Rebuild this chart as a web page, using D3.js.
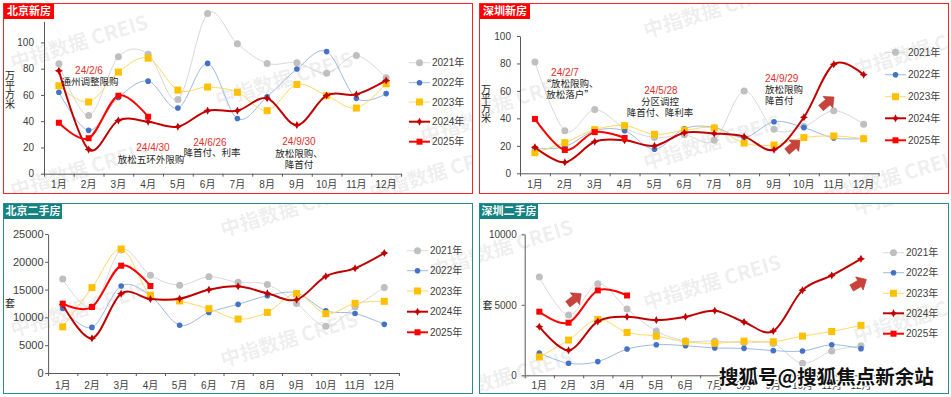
<!DOCTYPE html>
<html><head><meta charset="utf-8">
<script src="https://cdn.jsdelivr.net/npm/d3@7"></script>
<style>
body{margin:0;background:#fff;}
svg{display:block;font-family:"Liberation Sans",Arial,"Noto Sans CJK SC",sans-serif;}
</style></head><body>
<svg id="c" width="951" height="397"></svg>
<script>
const months = ["1月","2月","3月","4月","5月","6月","7月","8月","9月","10月","11月","12月"];
const years = ["2021年","2022年","2023年","2024年","2025年"];
// 北京新房 (万平方米)
const bjNew2021 = [83.8,44.4,89,91,56.6,122,99,84,84.5,76.6,90,73];
const bjNew2022 = [62,33,58,70.5,50,84,42,58.6,79.7,93,57.4,61];
const bjNew2023 = [67,54.6,77.4,88,63.7,66,62,48,68,59.4,50,68.5];
const bjNew2024 = [78.4,18.5,40.6,39.6,35.8,48,48,57.4,37,59.6,60.4,71];
const bjNew2025 = [38.8,27,59.4,43.4];
// 深圳新房 (万平方米)
const szNew2021 = [81,31,46.4,33,26,28,24,60,32,34,45.6,35.7];
const szNew2022 = [18,19.4,31,31,17.5,32.5,33.5,26,37.6,33.3,25.7,25.3];
const szNew2023 = [15,22.3,31.8,34.7,28.4,31.3,33,22,20.6,26,27.2,25.2];
const szNew2024 = [19,8,23,24,20,29.6,29,26.7,17.2,40.8,79.4,71.8];
const szNew2025 = [39.6,17,30,25.7];
// 北京二手房 (套)
const bjSec2021 = [16900,11900,22100,17600,15800,17300,16300,15900,12500,8400,11900,15400];
const bjSec2022 = [11600,8200,15650,13900,8600,10900,12350,13900,14400,11200,10700,8750];
const bjSec2023 = [8300,15350,22300,14000,12950,11570,9700,10900,14270,10670,12530,12890];
const bjSec2024 = [12300,6240,14270,13300,13370,14990,15590,14330,13190,17390,18830,21580];
const bjSec2025 = [12470,11870,19300,15650];
// 深圳二手房 (套)
const szSec2021 = [6980,4270,6490,4700,3140,2450,2430,2300,2250,850,1720,2100];
const szSec2022 = [1580,850,970,1860,2170,2100,1935,1910,1750,1720,2170,1890];
const szSec2023 = [1300,2500,3960,3040,2780,2380,2270,2430,2380,2780,3110,3540];
const szSec2024 = [3450,1770,3820,4150,3920,4150,4580,3780,3140,6040,7080,8260];
const szSec2025 = [4510,3730,6020,5660];
// ticks
const bjNewTicks = [0,20,40,60,80,100];
const szNewTicks = [0,20,40,60,80,100];
const bjSecTicks = [0,5000,10000,15000,20000,25000];
const szSecTicks = [0,5000,10000];
// annotations
const bjNewNoteDates = ["24/2/6","24/4/30","24/6/26","24/9/30"];
const bjNewNoteTexts = [["通州调整限购"],["放松五环外限购"],["降首付、利率"],["放松限购、","降首付"]];
const szNewNoteDates = ["24/2/7","24/5/28","24/9/29"];
const szNewNoteTexts = [["“放松限购、","放松落户”"],["分区调控","降首付、降利率"],["放松限购","降首付"]];
const wmText = "中指数据 CREIS";
const sohuText = "搜狐号@搜狐焦点新余站";

const svg = d3.select("#c");
const defs = svg.append("defs");

const styles = [
  {line:"#d9d9d9", lw:1, marker:"circle", mfill:"#bfbfbf", ms:3.5},
  {line:"#9dbbe3", lw:1, marker:"circle", mfill:"#4472c4", ms:2.8},
  {line:"#ffd966", lw:1, marker:"square", mfill:"#ffc000", ms:7},
  {line:"#c00000", lw:2, marker:"star", mfill:"#c00000", ms:4},
  {line:"#ff0000", lw:2, marker:"square", mfill:"#ff0000", ms:6}
];
function star4(r){const i=r*0.35;return `M0,${-r}L${i},${-i}L${r},0L${i},${i}L0,${r}L${-i},${i}L${-r},0L${-i},${-i}Z`;}
function markerPath(s){
  if(s.marker==="circle") return d3.symbol(d3.symbolCircle, Math.PI*s.ms*s.ms)();
  if(s.marker==="square") return d3.symbol(d3.symbolSquare, s.ms*s.ms)();
  return star4(s.ms);
}
const arrowPath = "M-8.5,-3.5L0.5,-3.5L0.5,-7.5L8.5,0L0.5,7.5L0.5,3.5L-8.5,3.5Z";

const panels = [
  {title:"北京新房", color:"#ff2020", box:"#ff0000", rect:[3,3,469,190], titleW:50,
   x:[44,401], y:[173.7,21.4], max:116, ticks:bjNewTicks, tickPad:7, tickFs:10, monthY:184,
   series:[bjNew2021,bjNew2022,bjNew2023,bjNew2024,bjNew2025],
   legX:409, legY:[62.7,82.7,102,121.7,141.7],
   ylab:{chars:"万平方米", x:10, y:75.7, step:9.6},
   wm:[[13,70],[218,107],[13,198],[423,144],[372,200]],
   notes:{dates:bjNewNoteDates, texts:bjNewNoteTexts, anchor:"middle",
     pos:[[89,70.7,90,82],[153,147.7,151,160],[210,142,212,153],[299,141.7,299,154]], step:10.4},
   arrows:[]},
  {title:"深圳新房", color:"#ff2020", box:"#ff0000", rect:[479,3,469,190], titleW:50,
   x:[520,878.6], y:[173.3,36], max:100, ticks:szNewTicks, tickPad:6, tickFs:10, monthY:184,
   series:[szNew2021,szNew2022,szNew2023,szNew2024,szNew2025],
   legX:885, legY:[52.3,74.7,96.7,118.3,140.3],
   ylab:{chars:"万平方米", x:486, y:89, step:9.8},
   wm:[[646,38],[438,130],[646,170],[856,77],[826,205]],
   notes:{dates:szNewNoteDates, texts:szNewNoteTexts, anchor:["middle","middle","start"],
     pos:[[565,72.3,570,83.5],[661,90.3,660,101.7],[765,78,765,89.3]], step:11.4},
   arrows:[[793.5,146,-40],[827.5,102.5,-40]]},
  {title:"北京二手房", color:"#2a8c8c", box:"#158282", rect:[3,203,469,190], titleW:58,
   x:[48.1,398.9], y:[373,234], max:25000, ticks:bjSecTicks, tickPad:1.5, tickFs:11, monthY:385,
   series:[bjSec2021,bjSec2022,bjSec2023,bjSec2024,bjSec2025],
   legX:407, legY:[250.7,270.7,291,311.7,332.3],
   ylab:{chars:"套", x:10, y:303.3, step:0},
   wm:[[223,237],[13,337],[223,367],[433,278]],
   notes:null, arrows:[]},
  {title:"深圳二手房", color:"#2a8c8c", box:"#158282", rect:[479,203,469,190], titleW:58,
   x:[524.7,875.6], y:[375.3,234.3], max:10000, ticks:szSecTicks, tickPad:5, tickFs:10, monthY:385.7,
   series:[szSec2021,szSec2022,szSec2023,szSec2024,szSec2025],
   legX:883, legY:[252.7,272.7,293.3,313.3,333.7],
   ylab:{chars:"套", x:487.5, y:305.3, step:0},
   wm:[[438,275],[646,310],[856,343],[856,215],[438,405]],
   notes:null, arrows:[[574.5,299,-38],[859,283.7,-30]]}
];

panels.forEach((p,pi)=>{
  const g = svg.append("g");
  const [rx,ry,rw,rh] = p.rect;
  const cid = "clip"+pi;
  defs.append("clipPath").attr("id",cid).append("rect").attr("x",rx).attr("y",ry).attr("width",rw).attr("height",rh);
  // watermark
  const wg = g.append("g").attr("clip-path",`url(#${cid})`);
  p.wm.forEach(([wx,wy])=>{
    wg.append("text").attr("x",wx).attr("y",wy)
      .attr("transform",`rotate(-17,${wx},${wy})`)
      .attr("font-size",20).attr("font-weight","bold")
      .attr("font-family","'Noto Sans CJK SC',sans-serif")
      .attr("fill","#000").attr("fill-opacity",0.085).text(wmText);
  });

  const x = d3.scaleBand().domain(months).range(p.x);
  const y = d3.scaleLinear().domain([0,p.max]).range(p.y);
  const cx = m => x(m) + x.bandwidth()/2;

  // y axis
  const ya = g.append("g").attr("transform",`translate(${p.x[0]},0)`)
    .call(d3.axisLeft(y).tickValues(p.ticks).tickFormat(d3.format("d")).tickSize(3).tickSizeOuter(0).tickPadding(p.tickPad));
  ya.selectAll("path,line").attr("stroke","#595959");
  ya.selectAll("text").attr("fill","#404040").attr("font-size",p.tickFs).attr("font-family","'Liberation Sans',Arial,sans-serif");
  // x axis (boundary ticks + labels)
  const xb = d3.scaleLinear().domain([0,12]).range(p.x);
  const xa = g.append("g").attr("transform",`translate(0,${p.y[0]})`)
    .call(d3.axisBottom(xb).ticks(12).tickSize(3).tickSizeOuter(0).tickFormat(""));
  xa.selectAll("path,line").attr("stroke","#595959");
  const xl = g.append("g").attr("transform",`translate(0,${p.monthY})`)
    .call(d3.axisBottom(x).tickSize(0).tickPadding(0));
  xl.select(".domain").remove();
  xl.selectAll("text").attr("fill","#404040").attr("font-size",10).attr("dy","0.35em")
    .attr("font-family","'Liberation Sans',Arial,'Noto Sans CJK SC',sans-serif");

  // y label
  const yl = g.append("text").attr("fill","#262626").attr("font-size",10).attr("text-anchor","middle")
    .attr("font-family","'Noto Sans CJK SC',sans-serif");
  Array.from(p.ylab.chars).forEach((ch,i)=>{
    yl.append("tspan").attr("x",p.ylab.x).attr("y",p.ylab.y+i*p.ylab.step).attr("dy","0.35em").text(ch);
  });

  // series
  const line = d3.line().x((d,i)=>cx(months[i])).y(d=>y(d)).curve(d3.curveCardinal.tension(0));
  p.series.forEach((vals,si)=>{
    const s = styles[si];
    const sg = g.append("g");
    sg.append("path").attr("d",line(vals)).attr("fill","none").attr("stroke",s.line).attr("stroke-width",s.lw);
    sg.selectAll("path.m").data(vals).join("path").attr("class","m")
      .attr("d",markerPath(s)).attr("fill",s.mfill)
      .attr("transform",(d,i)=>`translate(${cx(months[i])},${y(d)})`);
  });

  // annotations
  if(p.notes){
    p.notes.dates.forEach((dt,k)=>{
      const [dx,dy,tx,ty] = p.notes.pos[k];
      const anc = Array.isArray(p.notes.anchor)?p.notes.anchor[k]:p.notes.anchor;
      g.append("text").attr("x",dx).attr("y",dy).attr("dy","0.35em").attr("text-anchor",anc)
        .attr("fill","#e0302b").attr("font-size",10).text(dt);
      p.notes.texts[k].forEach((t,j)=>{
        g.append("text").attr("x",tx).attr("y",ty+j*p.notes.step).attr("dy","0.35em").attr("text-anchor",anc)
          .attr("fill","#262626").attr("font-size",9.5)
          .attr("font-family","'Noto Sans CJK SC',sans-serif").text(t);
      });
    });
  }
  // arrows
  p.arrows.forEach(([ax,ay,rot])=>{
    g.append("path").attr("d",arrowPath).attr("transform",`translate(${ax},${ay}) rotate(${rot})`)
      .attr("fill","#c9433b").attr("stroke","#b23a33").attr("stroke-width",0.6);
  });

  // legend
  years.forEach((yr,si)=>{
    const s = styles[si];
    const ly = p.legY[si];
    g.append("line").attr("x1",p.legX).attr("x2",p.legX+21).attr("y1",ly).attr("y2",ly)
      .attr("stroke",s.line).attr("stroke-width",s.lw);
    g.append("path").attr("d",markerPath(s)).attr("fill",s.mfill)
      .attr("transform",`translate(${p.legX+10.5},${ly})`);
    g.append("text").attr("x",p.legX+23).attr("y",ly).attr("dy","0.35em")
      .attr("fill","#404040").attr("font-size",10).text(yr);
  });

  // border + title box
  g.append("rect").attr("x",rx+0.5).attr("y",ry+0.5).attr("width",rw).attr("height",rh)
    .attr("fill","none").attr("stroke",p.color).attr("stroke-width",1);
  g.append("rect").attr("x",rx+1).attr("y",ry+1).attr("width",p.titleW).attr("height",15).attr("fill",p.box);
  g.append("text").attr("x",rx+1+p.titleW/2).attr("y",ry+8.5).attr("dy","0.35em").attr("text-anchor","middle")
    .attr("fill","#fff").attr("font-weight","bold").attr("font-size",11)
    .attr("font-family","'Noto Sans CJK SC',sans-serif").text(p.title);
});

// sohu watermark
svg.append("text").attr("x",719).attr("y",384)
  .attr("font-size",19.5).attr("font-weight","bold")
  .attr("font-family","'Noto Sans CJK SC',sans-serif")
  .attr("fill","#111").attr("stroke","#fff").attr("stroke-width",2.5)
  .attr("paint-order","stroke").attr("stroke-linejoin","round").text(sohuText);
</script>
</body></html>
